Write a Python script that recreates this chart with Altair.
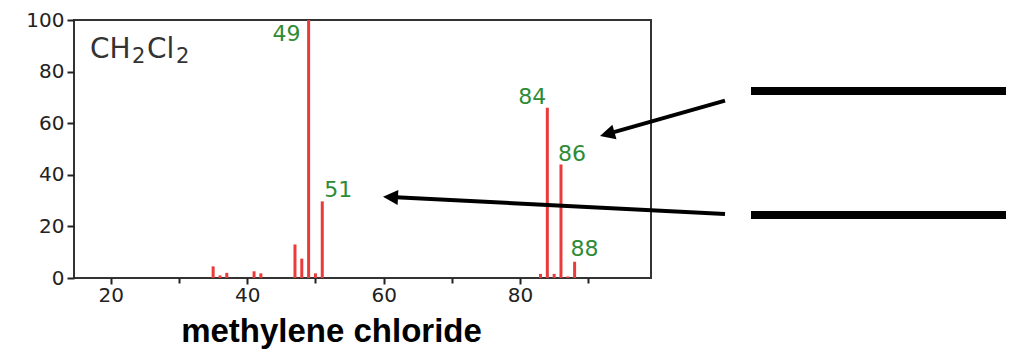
import altair as alt
import pandas as pd

# ---- data ----
mz = [35, 36, 37, 41, 42, 47, 48, 49, 50, 51, 83, 84, 85, 86, 87, 88]
intensity = [4.5, 1.0, 2.0, 2.6, 1.8, 13.0, 7.5, 100.0, 1.8, 29.7, 1.6, 66.0, 1.6, 44.0, 0.6, 6.3]
labeled_peaks = [49, 51, 84, 86, 88]
x_ticks = [20, 30, 40, 50, 60, 70, 80, 90]
y_ticks = [0, 10, 20, 30, 40, 50, 60, 70, 80, 90, 100]
formula_parts = ["CH", "2", "Cl", "2"]
compound = "methylene chloride"

spec = pd.DataFrame({"mz": mz, "intensity": intensity})

W, H = 577, 258
x_scale = alt.Scale(domain=[14.6, 99.2], nice=False, zero=False)
y_scale = alt.Scale(domain=[0, 100], nice=False)

axis_common = dict(
    grid=False, domain=False, tickColor="#222", tickWidth=2,
    labelFont="DejaVu Sans", labelFontSize=20, labelColor="#222",
    title=None,
)

x_axis = alt.Axis(
    values=x_ticks,
    labelExpr="datum.value % 20 == 0 ? datum.label : ''",
    tickSize={"condition": {"test": "datum.value % 20 == 0", "value": 6}, "value": 5},
    labelPadding=1,
    **axis_common,
)
y_axis = alt.Axis(
    values=y_ticks,
    labelExpr="datum.value % 20 == 0 ? datum.label : ''",
    tickSize={"condition": {"test": "datum.value % 20 == 0", "value": 7}, "value": 4},
    labelPadding=3,
    **axis_common,
)

bars = alt.Chart(spec).mark_rule(color="#ea3a3a", strokeWidth=3).encode(
    x=alt.X("mz:Q", scale=x_scale, axis=x_axis),
    y=alt.Y("intensity:Q", scale=y_scale, axis=y_axis),
    y2=alt.datum(0),
)

# per-label offsets (styling)
label_offsets = {49: (-22, 14), 51: (16, -11), 84: (-15, -11), 86: (11, -10.5), 88: (10, -12.5)}
label_layers = []
for p in labeled_peaks:
    dx, dy = label_offsets[p]
    d = spec[spec["mz"] == p].assign(label=str(p))
    label_layers.append(
        alt.Chart(d).mark_text(
            font="DejaVu Sans", fontSize=22, color="#2e8b35",
            align="center", baseline="middle", dx=dx, dy=dy,
        ).encode(
            x=alt.X("mz:Q", scale=x_scale),
            y=alt.Y("intensity:Q", scale=y_scale),
            text="label:N",
        )
    )

one = alt.Data(values=[{}])

# chemical formula with subscripts (text pieces)
formula_style = [(16, 38, 28), (58, 43, 21), (73, 38, 28), (102, 43, 21)]
formula_layers = []
for txt, (fx, fy, fs) in zip(formula_parts, formula_style):
    formula_layers.append(
        alt.Chart(one).mark_text(
            font="DejaVu Sans", fontSize=fs, color="#333", align="left",
            baseline="alphabetic", text=txt,
        ).encode(x=alt.value(fx), y=alt.value(fy))
    )

title_text = alt.Chart(one).mark_text(
    font="Liberation Sans", fontSize=33, fontWeight="bold", color="black",
    align="center", baseline="alphabetic", text=compound,
).encode(x=alt.value(257.5), y=alt.value(322))

# decorative annotation: two blank lines with arrows
def hline(y):
    return alt.Chart(one).mark_rule(color="black", strokeWidth=8).encode(
        x=alt.value(677), x2=alt.value(945), y=alt.value(y), y2=alt.value(y)
    )

def arrow(tail, end, tip, angle):
    shaft = alt.Chart(one).mark_rule(color="black", strokeWidth=4).encode(
        x=alt.value(tail[0]), y=alt.value(tail[1]), x2=alt.value(end[0]), y2=alt.value(end[1])
    )
    head = alt.Chart(one).mark_point(
        shape="M0,0 L-1.5,-0.75 L-1.5,0.75 Z", filled=True, size=400,
        angle=angle, color="black", opacity=1,
    ).encode(x=alt.value(tip[0]), y=alt.value(tip[1]))
    return shaft + head

annot = (
    hline(71) + hline(195)
    + arrow((651, 80.7), (533.7, 113.8), (526, 116), 164.2)
    + arrow((651, 194), (317, 177.1), (309, 176.7), 182.9)
)

chart = alt.layer(bars, *label_layers, *formula_layers, title_text, annot).properties(
    width=W, height=H,
    autosize=alt.AutoSizeParams(type="none"),
    padding={"left": 66, "top": 12, "right": 355, "bottom": 72},
).configure_view(stroke="#333", strokeWidth=2)

chart.save("out.html", embed_options={"renderer": "svg", "actions": False})
